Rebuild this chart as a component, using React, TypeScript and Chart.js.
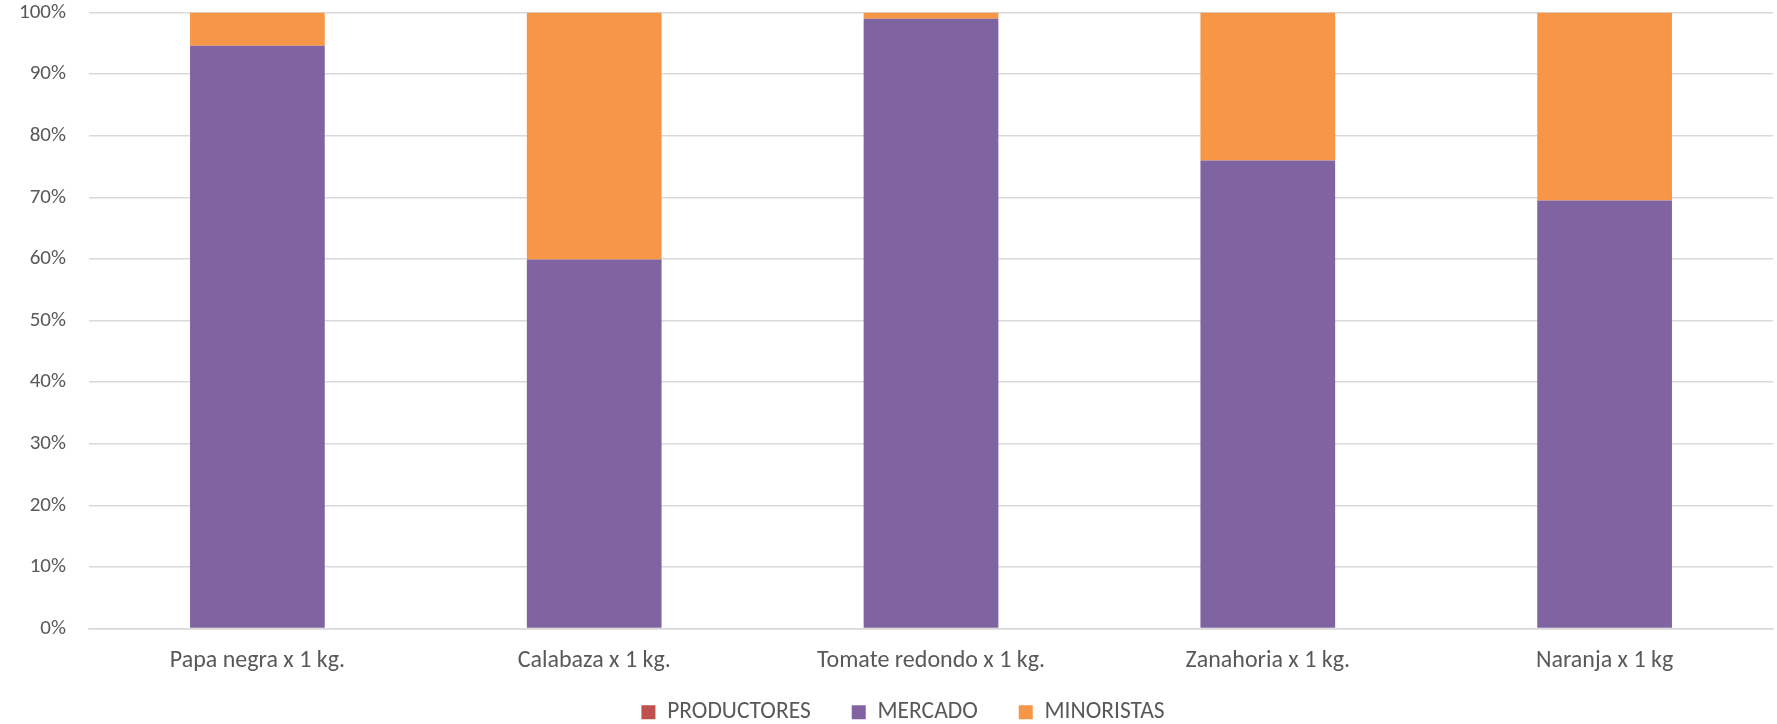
import React, { useEffect, useRef } from "react";
import { Chart, registerables } from "chart.js";

Chart.register(...registerables);

const categories = [
  "Papa negra x 1 kg.",
  "Calabaza x 1 kg.",
  "Tomate redondo x 1 kg.",
  "Zanahoria x 1 kg.",
  "Naranja x 1 kg",
];
const productores = [0, 0, 0, 0, 0];
const mercado = [94.6, 59.9, 99.0, 76.0, 69.5];
const minoristas = [5.4, 40.1, 1.0, 24.0, 30.5];
const yTicks = [0, 10, 20, 30, 40, 50, 60, 70, 80, 90, 100];

const FONT = "Carlito, Lato, 'Open Sans', sans-serif";
const TEXT = "#595959";

const legendShift = {
  id: "legendShift",
  afterLayout(chart: any) {
    if (chart.legend) chart.legend.left += 33;
  },
};

export default function App() {
  const ref = useRef<HTMLCanvasElement>(null);
  useEffect(() => {
    document.body.style.margin = "0";
    const ctx = ref.current!;
    const chart = new Chart(ctx, {
      type: "bar",
      data: {
        labels: categories,
        datasets: [
          { label: "PRODUCTORES", data: productores, backgroundColor: "#C0504D" },
          { label: "MERCADO", data: mercado, backgroundColor: "#8064A2" },
          { label: "MINORISTAS", data: minoristas, backgroundColor: "#F79646" },
        ],
      },
      plugins: [legendShift],
      options: {
        animation: false,
        responsive: false,
        maintainAspectRatio: false,
        layout: { padding: { left: 0, right: 4, top: 0, bottom: -10 } },
        datasets: { bar: { categoryPercentage: 1, barPercentage: 0.4 } },
        plugins: {
          legend: {
            position: "bottom",
            labels: {
              color: TEXT,
              font: { family: FONT, size: 23.5 },
              boxWidth: 14,
              boxHeight: 14,
              padding: 41,
            },
          },
          tooltip: { enabled: false },
        },
        scales: {
          x: {
            stacked: true,
            grid: { display: false, drawTicks: false },
            border: { display: true, color: "#D9D9D9", width: 1.5 },
            ticks: { color: TEXT, font: { family: FONT, size: 24 }, padding: 18, maxRotation: 0 },
            afterFit: (s: any) => {
              s.height = 31;
              s._computeLabelArea = () => undefined;
            },
          },
          y: {
            stacked: true,
            min: 0,
            max: 100,
            afterBuildTicks: (s: any) => { s.ticks = yTicks.map((v) => ({ value: v })); },
            grid: { color: "#D9D9D9", lineWidth: 1.5, drawTicks: true, tickLength: 23, tickColor: "rgba(0,0,0,0)" },
            border: { display: false },
            ticks: {
              color: TEXT,
              font: { family: FONT, size: 21 },
              padding: 0,
              callback: (v: any) => v + "%",
            },
            afterFit: (s: any) => { s.width = 89; },
          },
        },
      },
    });
    return () => chart.destroy();
  }, []);
  return (
    <div style={{ width: 1777, height: 724 }}>
      <canvas ref={ref} width={1777} height={724} style={{ display: "block" }} />
    </div>
  );
}
